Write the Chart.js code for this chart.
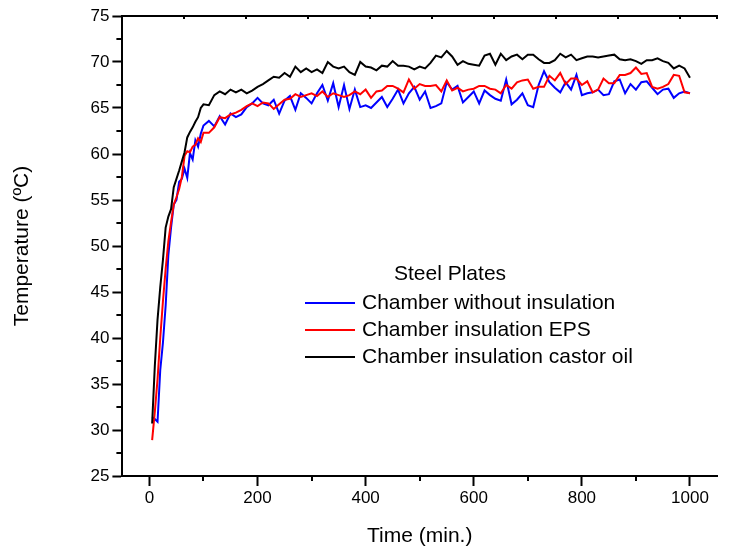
<!DOCTYPE html>
<html>
<head>
<meta charset="utf-8">
<script src="https://cdn.jsdelivr.net/npm/chart.js@4.4.0/dist/chart.umd.min.js"></script>
<style>
  html, body { margin: 0; padding: 0; background: #fff; }
  #wrap { width: 734px; height: 550px; position: relative; }
</style>
</head>
<body>
<div id="wrap"><canvas id="tempChart"></canvas></div>
<script>
// time (min)
var timeMin = [5, 10, 15, 20, 25, 30, 35, 40, 45, 50, 55, 60, 65, 70, 75, 80, 85, 90, 95, 100,
  110, 120, 130, 140, 150, 160, 170, 180, 190, 200, 210, 220, 230, 240, 250, 260, 270, 280, 290, 300,
  310, 320, 330, 340, 350, 360, 370, 380, 390, 400, 410, 420, 430, 440, 450, 460, 470, 480, 490, 500,
  510, 520, 530, 540, 550, 560, 570, 580, 590, 600, 610, 620, 630, 640, 650, 660, 670, 680, 690, 700,
  710, 720, 730, 740, 750, 760, 770, 780, 790, 800, 810, 820, 830, 840, 850, 860, 870, 880, 890, 900,
  910, 920, 930, 940, 950, 960, 970, 980, 990, 1000];

// temperature (ºC)
var noInsulation = [31.4, 31.2, 30.9, 36.5, 39.5, 43.5, 49.0, 52.0, 54.5, 55.0, 57.0, 57.3, 58.4, 57.4, 60.1, 59.4, 61.5, 60.8, 62.2, 63.1,
  63.6, 63.0, 64.1, 63.2, 64.4, 64.0, 64.3, 65.1, 65.5, 66.1, 65.5, 65.3, 65.9, 64.4, 65.8, 66.3, 64.8, 66.6, 66.1, 65.5,
  66.6, 67.5, 65.8, 67.7, 65.1, 67.5, 64.9, 67.0, 65.1, 65.3, 65.0, 65.6, 66.2, 65.1, 66.0, 67.0, 65.5, 66.6, 67.3, 65.9,
  66.8, 65.0, 65.2, 65.5, 67.8, 67.0, 67.4, 65.6, 66.2, 66.8, 65.5, 66.9, 66.4, 66.0, 65.8, 68.1, 65.4, 65.9, 66.6, 65.3,
  65.1, 67.5, 69.0, 67.8, 67.2, 66.7, 67.8, 67.0, 68.6, 66.4, 66.6, 66.7, 67.0, 66.4, 66.5, 67.9, 68.1, 66.6, 67.6, 67.0,
  67.8, 67.9, 67.2, 66.5, 67.0, 67.1, 66.1, 66.6, 66.8, 66.6];

var epsInsulation = [28.9, 32.0, 35.5, 40.0, 44.0, 47.5, 50.5, 52.6, 54.5, 55.3, 56.2, 57.5, 59.8, 60.3, 60.2, 60.8, 61.0, 61.7, 61.3, 62.3,
  62.3, 62.9, 64.0, 63.9, 64.3, 64.5, 64.8, 65.2, 65.5, 65.2, 65.6, 65.5, 64.9, 65.4, 65.9, 66.0, 66.5, 66.2, 66.4, 66.6,
  66.3, 66.8, 66.2, 66.6, 66.4, 66.2, 66.4, 66.8, 66.5, 67.0, 66.1, 66.8, 66.9, 67.4, 67.4, 67.1, 66.7, 68.1, 67.1, 67.6,
  67.4, 67.4, 67.5, 66.8, 68.0, 66.9, 67.2, 66.8, 67.0, 67.1, 67.4, 67.4, 67.1, 67.0, 66.6, 67.5, 67.1, 67.8, 68.0, 68.1,
  67.1, 67.3, 67.3, 68.5, 68.0, 68.8, 67.6, 68.2, 68.2, 67.5, 67.9, 66.7, 67.0, 68.2, 67.7, 67.7, 68.6, 68.6, 68.8, 69.4,
  68.7, 68.8, 67.3, 67.1, 67.3, 67.6, 68.6, 68.5, 66.7, 66.6];

var castorInsulation = [30.7, 37.0, 42.0, 45.5, 48.5, 52.0, 53.2, 54.0, 56.4, 57.3, 58.2, 59.2, 60.2, 61.8, 62.4, 62.9, 63.5, 64.0, 65.0, 65.4,
  65.3, 66.4, 66.8, 66.5, 67.0, 66.7, 67.0, 66.6, 66.9, 67.3, 67.6, 68.0, 68.4, 68.3, 68.8, 68.4, 69.5, 68.9, 69.3, 68.9,
  69.2, 68.8, 70.0, 69.5, 69.3, 69.5, 68.9, 68.6, 70.0, 69.5, 69.4, 69.1, 69.6, 69.5, 70.1, 69.6, 69.6, 69.5, 69.2, 69.5,
  69.3, 69.9, 70.7, 70.5, 71.2, 70.6, 69.7, 70.1, 69.8, 69.7, 69.6, 70.7, 70.9, 69.7, 70.9, 70.2, 70.6, 70.8, 70.3, 70.8,
  70.8, 70.3, 69.9, 69.9, 70.2, 70.9, 70.5, 70.8, 70.2, 70.4, 70.6, 70.6, 70.5, 70.6, 70.7, 70.8, 70.3, 70.2, 70.3, 70.1,
  69.8, 70.2, 70.2, 70.4, 70.1, 69.9, 69.3, 69.6, 69.3, 68.3];

var seriesNames = ["Chamber without insulation", "Chamber insulation EPS", "Chamber insulation castor oil"];
var seriesColors = ["#0000ff", "#ff0000", "#000000"];
var legendTitle = "Steel Plates";

var FONT = "'Liberation Sans', Arial, sans-serif";

function toPoints(vals) {
  return timeMin.map(function(t, i) { return {x: t, y: vals[i]}; });
}

// minor ticks + inner ticks on top frame
var extraTicks = {
  id: 'extraTicks',
  afterDraw: function(chart) {
    var ctx = chart.ctx, xs = chart.scales.x, ys = chart.scales.y, top = chart.scales.x2;
    ctx.save();
    ctx.strokeStyle = '#000';
    ctx.lineWidth = 2;
    ctx.beginPath();
    for (var v = 27.5; v < 75; v += 5) {
      var py = Math.round(ys.getPixelForValue(v));
      ctx.moveTo(ys.right - 6, py); ctx.lineTo(ys.right, py);
    }
    for (var t = 100; t <= 900; t += 200) {
      var px = Math.round(xs.getPixelForValue(t));
      ctx.moveTo(px, xs.top); ctx.lineTo(px, xs.top + 5);
    }
    top.ticks.forEach(function(tk) {
      var px = Math.round(top.getPixelForValue(tk.value));
      ctx.moveTo(px, top.bottom); ctx.lineTo(px, top.bottom + 3);
    });
    ctx.stroke();
    ctx.restore();
  }
};

// legend box inside the plot
var innerLegend = {
  id: 'innerLegend',
  afterDraw: function(chart) {
    var ctx = chart.ctx;
    var x0 = 305, rowY = 303, rowH = 27;
    ctx.save();
    ctx.font = '21px ' + FONT;
    ctx.fillStyle = '#000';
    ctx.textBaseline = 'middle';
    ctx.textAlign = 'left';
    ctx.fillText(legendTitle, 394, 274);
    chart.data.datasets.forEach(function(ds, i) {
      var y = rowY + i * rowH;
      ctx.strokeStyle = ds.borderColor;
      ctx.lineWidth = 2;
      ctx.beginPath();
      ctx.moveTo(x0, y); ctx.lineTo(x0 + 50, y);
      ctx.stroke();
      ctx.fillStyle = '#000';
      ctx.fillText(ds.label, x0 + 57, y);
    });
    ctx.restore();
  }
};

var ctx = document.getElementById('tempChart').getContext('2d');
new Chart(ctx, {
  type: 'line',
  data: {
    datasets: [
      {label: seriesNames[0], data: toPoints(noInsulation), borderColor: seriesColors[0], order: 2},
      {label: seriesNames[1], data: toPoints(epsInsulation), borderColor: seriesColors[1], order: 1},
      {label: seriesNames[2], data: toPoints(castorInsulation), borderColor: seriesColors[2], order: 0}
    ]
  },
  options: {
    responsive: true,
    maintainAspectRatio: false,
    devicePixelRatio: 1,
    animation: false,
    layout: {padding: {left: 0, right: 17, top: 0, bottom: 0}},
    elements: {
      line: {borderWidth: 2, tension: 0, fill: false},
      point: {radius: 0}
    },
    plugins: {legend: {display: false}, tooltip: {enabled: false}},
    scales: {
      x: {
        type: 'linear', position: 'bottom', min: -50, max: 1050,
        ticks: {stepSize: 200, includeBounds: false, color: '#000', padding: 2, maxRotation: 0,
                font: {family: FONT, size: 17},
                callback: function(v) { return String(v); }},
        grid: {drawOnChartArea: false, tickLength: 10, tickWidth: 2, tickColor: '#000'},
        border: {display: true, color: '#000', width: 2},
        title: {display: true, text: 'Time (min.)', color: '#000', font: {family: FONT, size: 21},
                padding: {top: 0, bottom: 1}},
        afterFit: function(s) { s.height = 74; }
      },
      x2: {
        type: 'linear', position: 'top', min: 0, max: 9.6,
        ticks: {display: false, stepSize: 1},
        grid: {display: false, drawTicks: false},
        border: {display: true, color: '#000', width: 2},
        afterFit: function(s) { s.height = 16; }
      },
      y: {
        type: 'linear', position: 'left', min: 25, max: 75,
        ticks: {stepSize: 5, color: '#000', padding: 3, font: {family: FONT, size: 17},
                callback: function(v) { return String(v); }},
        grid: {drawOnChartArea: false, tickLength: 10, tickWidth: 2, tickColor: '#000'},
        border: {display: true, color: '#000', width: 2},
        title: {display: true, text: 'Temperature (ºC)', color: '#000', font: {family: FONT, size: 21},
                padding: {top: 10, bottom: 0}},
        afterFit: function(s) { s.width = 122.4; }
      }
    }
  },
  plugins: [extraTicks, innerLegend]
});
</script>
</body>
</html>
